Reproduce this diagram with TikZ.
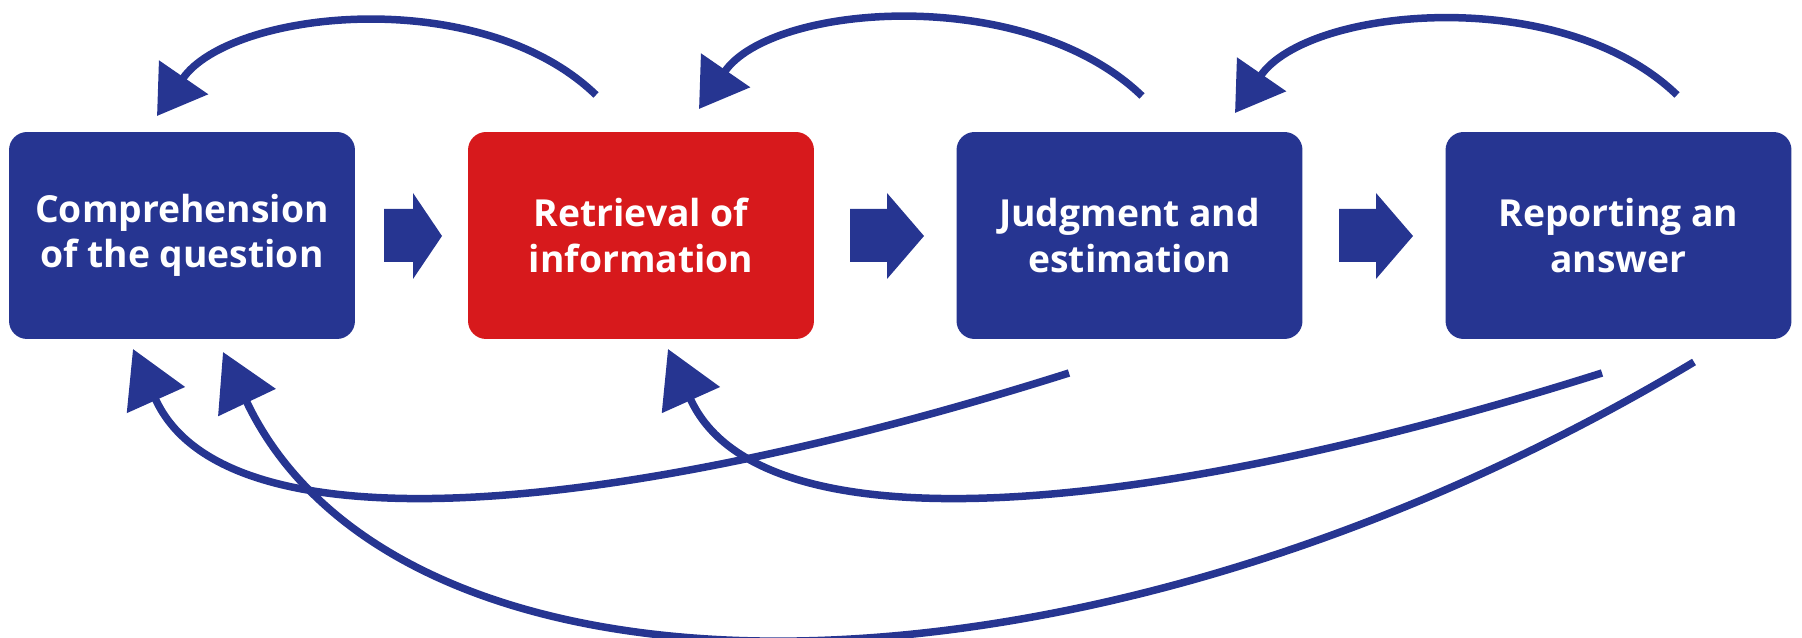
\documentclass[tikz,border=0pt]{standalone}
\usepackage{fontspec}
\setsansfont{Open Sans}
\usepackage{xcolor}
\usetikzlibrary{arrows.meta}
\definecolor{stageblue}{RGB}{38,53,145}
\definecolor{stagered}{RGB}{215,25,28}

\begin{document}
\begin{tikzpicture}[x=0.02cm, y=-0.02cm,
        stage/.style={rectangle, rounded corners=0.36cm, fill=stageblue, text=white,
            minimum width=6.92cm, minimum height=4.14cm, inner sep=0pt, align=center,
            font=\sffamily\bfseries\fontsize{21.2}{25.8}\selectfont},
        backtop/.style={draw=stageblue, line width=0.15cm, -{Triangle[length=0.94cm, width=1.16cm]}},
        backbottom/.style={draw=stageblue, line width=0.15cm, -{Triangle[length=1.12cm, width=1.24cm]}}]
        \useasboundingbox (0,0) rectangle (1802,638);
        \newcommand{\stagearrow}[3]{
            \fill[stageblue] (#1,209) -- (#2,209) -- (#2,193) -- (#3,236) -- (#2,279) -- (#2,262) -- (#1,262) -- cycle;
        }

        % the four stages
        \node[stage] (comp) at (182,235.5) {Comprehension\\of the question};
        \node[stage, fill=stagered] (retr) at (641,235.5) {Retrieval of\\information};
        \node[stage] (judg) at (1129.5,235.5) {Judgment and\\estimation};
        \node[stage] (repo) at (1618.5,235.5) {Reporting an\\answer};

        \stagearrow{384}{413}{442}
        \stagearrow{850}{887}{924}
        \stagearrow{1339}{1376}{1413}

        % ends of the feedback loops
        \coordinate (retr top) at (596,95);
        \coordinate (comp top) at (157,116);
        \coordinate (judg top) at (1142,96);
        \coordinate (retr in) at (699,109);
        \coordinate (repo top) at (1677,95);
        \coordinate (judg in) at (1235,113);

        \coordinate (judg low) at (1069,373);
        \coordinate (comp low a) at (133,349);
        \coordinate (repo low a) at (1602,373);
        \coordinate (retr low) at (668,349);
        \coordinate (repo low b) at (1694,362);
        \coordinate (comp low b) at (223,352);

        \draw[backtop] (retr top) .. controls +(-116,-112) and +(73,-106) .. (comp top);
        \draw[backtop] (judg top) .. controls +(-116,-112) and +(73,-106) .. (retr in);
        \draw[backtop] (repo top) .. controls +(-116,-112) and +(73,-106) .. (judg in);

        \draw[backbottom] (judg low) .. controls +(-449,142) and +(92,205) .. (comp low a);
        \draw[backbottom] (repo low a) .. controls +(-449,142) and +(92,205) .. (retr low);
        \draw[backbottom] (repo low b) .. controls +(-614,368) and +(177,373) .. (comp low b);
    \end{tikzpicture}
\end{document}
